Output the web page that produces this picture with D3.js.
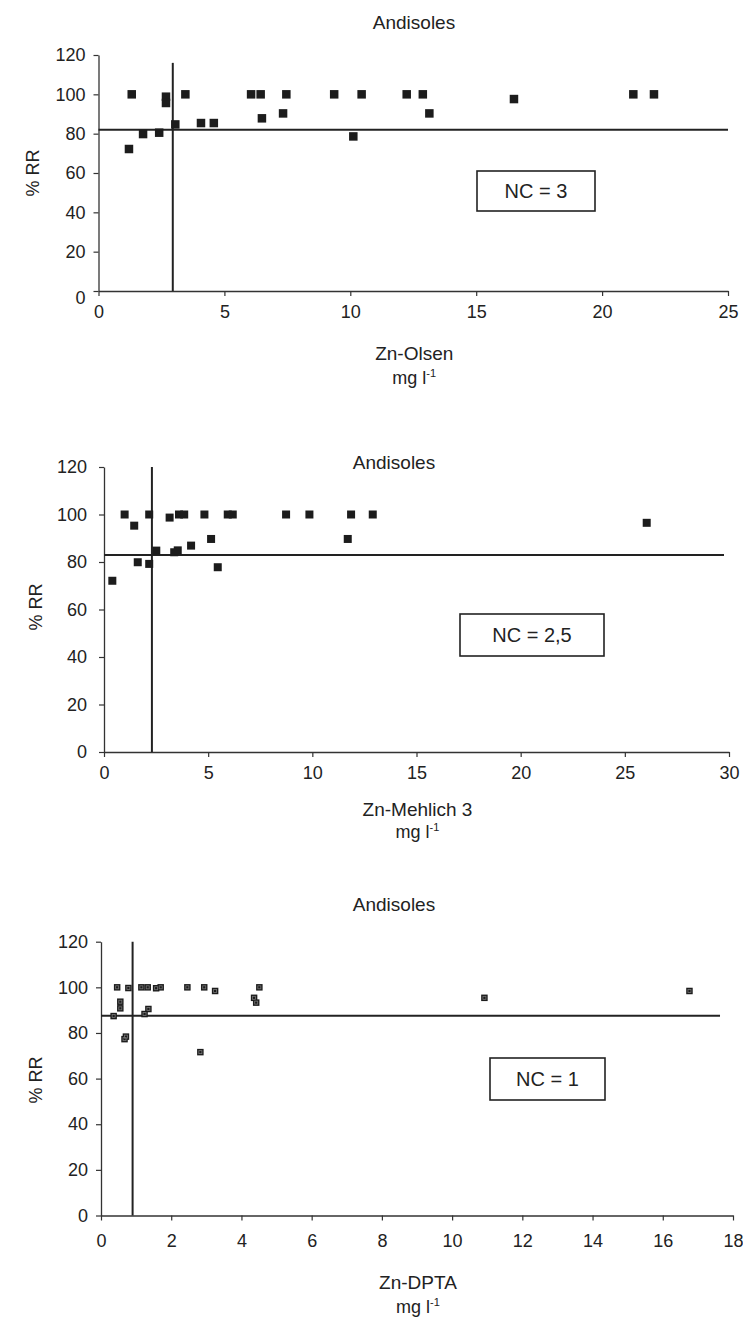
<!DOCTYPE html>
<html>
<head>
<meta charset="utf-8">
<script src="https://cdn.jsdelivr.net/npm/d3@7"></script>
<style>
  body { margin: 0; background: #fff; }
  text { font-family: "Liberation Sans", Arial, sans-serif; fill: #222; }
</style>
</head>
<body>
<div id="chart"></div>
<script>
// ---------- data ----------
var yTicks = [0, 20, 40, 60, 80, 100, 120];

var olsenTicks = [0, 5, 10, 15, 20, 25];
var olsenX = [1.21, 1.32, 1.77, 2.41, 2.68, 2.68, 3.05, 3.45, 4.07, 4.58, 6.06, 6.44,
              6.49, 7.33, 7.46, 9.36, 10.12, 10.45, 12.24, 12.88, 13.14, 16.5, 21.24, 22.06];
var olsenY = [72.2, 100, 79.8, 80.5, 98.8, 95.6, 84.7, 100, 85.4, 85.4, 100, 100,
              87.8, 90.3, 100, 100, 78.6, 100, 100, 100, 90.3, 97.6, 100, 100];
var olsenCut = {x: 2.95, y: 82, xTop: 116, yEnd: 25};

var mehlichTicks = [0, 5, 10, 15, 20, 25, 30];
var mehlichX = [0.40, 0.99, 1.45, 1.62, 2.17, 2.17, 2.51, 3.15, 3.37, 3.54, 3.60, 3.85,
                4.18, 4.82, 5.14, 5.46, 5.94, 6.18, 8.74, 9.86, 11.70, 11.86, 12.90, 26.05];
var mehlichY = [72.1, 100, 95.3, 79.9, 100, 79.2, 84.8, 98.7, 84.1, 84.9, 100, 100,
                86.9, 100, 89.7, 77.8, 100, 100, 100, 100, 89.7, 100, 100, 96.5];
var mehlichCut = {x: 2.3, y: 83, xTop: 120, yEnd: 29.76};

var dtpaTicks = [0, 2, 4, 6, 8, 10, 12, 14, 16, 18];
var dtpaX = [0.46, 0.36, 0.55, 0.55, 0.71, 0.67, 0.78, 1.15, 1.33, 1.24, 1.35,
             1.57, 1.70, 2.46, 2.94, 2.83, 3.25, 4.36, 4.42, 4.51, 10.92, 16.76];
var dtpaY = [100, 87.4, 93.7, 90.8, 78.4, 77.3, 99.7, 100, 100, 88.3, 90.5,
             99.6, 100, 100, 100, 71.6, 98.4, 95.4, 93.3, 100, 95.4, 98.4];
var dtpaCut = {x: 0.9, y: 87.5, xTop: 120, yEnd: 17.63};

var titles = ["Andisoles", "Andisoles", "Andisoles"];
var xTitles = ["Zn-Olsen", "Zn-Mehlich 3", "Zn-DPTA"];
var boxLabels = ["NC = 3", "NC = 2,5", "NC = 1"];

// ---------- layout ----------
var W = 743, H = 1322;

var svg = d3.select("#chart").append("svg")
    .attr("width", W)
    .attr("height", H);

svg.append("rect").attr("width", W).attr("height", H).attr("fill", "#fff");

var panels = [
  {xs: olsenX, ys: olsenY, ticks: olsenTicks, cut: olsenCut, xmax: 25,
   left: 98.5, right: 728, bottom: 291, top: 55, ypad: 8, xpad: 9.5, mk: 8.5, inner: false,
   title: [414, 29], ylab: [33, 173], xlab: 360, unit: 384, box: [477, 171, 118, 40], zeroShift: 7},
  {xs: mehlichX, ys: mehlichY, ticks: mehlichTicks, cut: mehlichCut, xmax: 30,
   left: 104, right: 729, bottom: 752, top: 467, ypad: 12, xpad: 9.5, mk: 8, inner: false,
   title: [394, 469], ylab: [36, 607], xlab: 816, unit: 838, box: [460, 614, 144, 42], zeroShift: 0},
  {xs: dtpaX, ys: dtpaY, ticks: dtpaTicks, cut: dtpaCut, xmax: 18,
   left: 101, right: 733, bottom: 1215.5, top: 941.7, ypad: 8, xpad: 13.5, mk: 6.5, inner: true,
   title: [394, 911], ylab: [36, 1080], xlab: 1289, unit: 1313, box: [490, 1058, 115, 42], zeroShift: 0}
];

panels.forEach(function(p, i){
    var x = d3.scaleLinear().domain([0, p.xmax]).range([p.left, p.right]);
    var y = d3.scaleLinear().domain([0, 120]).range([p.bottom, p.top]);

    var g = svg.append("g");

    // y axis
    var ya = g.append("g")
        .attr("transform", "translate(" + p.left + ",0)")
        .call(d3.axisLeft(y).tickValues(yTicks).tickSize(5).tickPadding(p.ypad).tickSizeOuter(0));
    // x axis
    var xa = g.append("g")
        .attr("transform", "translate(0," + p.bottom + ")")
        .call(d3.axisBottom(x).tickValues(p.ticks).tickSize(5).tickPadding(p.xpad).tickSizeOuter(0));

    [ya, xa].forEach(function(a){
        a.select(".domain").attr("stroke", "#333").attr("stroke-width", 1.3);
        a.selectAll(".tick line").attr("stroke", "#333").attr("stroke-width", 1.2);
        a.selectAll(".tick text")
            .attr("font-size", 18)
            .attr("font-family", "Liberation Sans, Arial, sans-serif")
            .attr("fill", "#222");
    });
    // the y "0" label sits a little low on the first panel
    ya.selectAll(".tick text").filter(function(d){ return d === 0; })
        .attr("y", p.zeroShift);

    // critical level lines
    g.append("line")
        .attr("x1", x(0)).attr("x2", x(p.cut.yEnd))
        .attr("y1", y(p.cut.y)).attr("y2", y(p.cut.y))
        .attr("stroke", "#222").attr("stroke-width", 2);
    g.append("line")
        .attr("x1", x(p.cut.x)).attr("x2", x(p.cut.x))
        .attr("y1", y(0)).attr("y2", y(p.cut.xTop))
        .attr("stroke", "#222").attr("stroke-width", 2);

    // points
    var pts = d3.range(p.xs.length).map(function(k){ return {x: p.xs[k], y: p.ys[k]}; });
    g.selectAll(".pt").data(pts).enter()
        .append("rect")
        .attr("x", function(d){ return x(d.x) - p.mk / 2; })
        .attr("y", function(d){ return y(d.y) - p.mk / 2; })
        .attr("width", p.mk).attr("height", p.mk)
        .attr("fill", "#1c1c1c");
    if (p.inner) {
        g.selectAll(".pin").data(pts).enter()
            .append("rect")
            .attr("x", function(d){ return x(d.x) - 1.5; })
            .attr("y", function(d){ return y(d.y) - 1.5; })
            .attr("width", 3).attr("height", 3)
            .attr("fill", "none")
            .attr("stroke", "#777").attr("stroke-width", 0.8);
    }

    // title
    g.append("text")
        .attr("x", p.title[0]).attr("y", p.title[1])
        .attr("text-anchor", "middle")
        .attr("font-size", 19)
        .text(titles[i]);

    // y title
    g.append("text")
        .attr("transform", "translate(" + p.ylab[0] + "," + p.ylab[1] + ") rotate(-90)")
        .attr("text-anchor", "middle")
        .attr("dominant-baseline", "central")
        .attr("font-size", 18)
        .text("% RR");

    // x title + units
    var cx = (p.left + p.right) / 2 + 1;
    g.append("text")
        .attr("x", cx).attr("y", p.xlab)
        .attr("text-anchor", "middle")
        .attr("font-size", 19)
        .text(xTitles[i]);
    var u = g.append("text")
        .attr("x", cx).attr("y", p.unit)
        .attr("text-anchor", "middle")
        .attr("font-size", 18);
    u.append("tspan").text("mg l");
    u.append("tspan").attr("font-size", 11).attr("dy", -7).text("-1");

    // NC box
    var b = p.box;
    g.append("rect")
        .attr("x", b[0]).attr("y", b[1]).attr("width", b[2]).attr("height", b[3])
        .attr("fill", "#fff").attr("stroke", "#222").attr("stroke-width", 1.6);
    g.append("text")
        .attr("x", b[0] + b[2] / 2).attr("y", b[1] + b[3] / 2)
        .attr("text-anchor", "middle")
        .attr("dominant-baseline", "central")
        .attr("font-size", 20)
        .text(boxLabels[i]);
});
</script>
</body>
</html>
